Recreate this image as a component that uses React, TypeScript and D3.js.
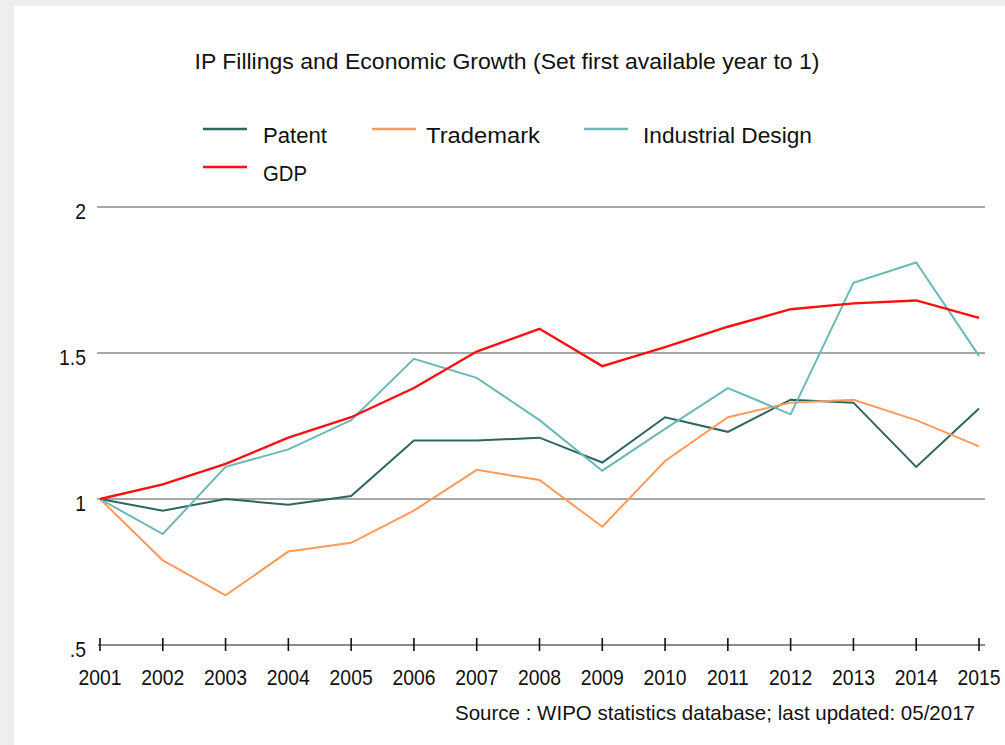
import { useEffect, useRef } from "react";
import * as d3 from "d3";

const years = [2001, 2002, 2003, 2004, 2005, 2006, 2007, 2008, 2009, 2010, 2011, 2012, 2013, 2014, 2015];
const patent = [1.0, 0.96, 1.0, 0.98, 1.01, 1.2, 1.2, 1.21, 1.125, 1.28, 1.23, 1.34, 1.33, 1.11, 1.31];
const trademark = [1.0, 0.79, 0.67, 0.82, 0.85, 0.96, 1.1, 1.065, 0.905, 1.13, 1.28, 1.33, 1.34, 1.27, 1.18];
const industrialDesign = [1.0, 0.88, 1.11, 1.17, 1.27, 1.48, 1.415, 1.27, 1.097, 1.24, 1.38, 1.29, 1.74, 1.81, 1.49];
const gdp = [1.0, 1.05, 1.12, 1.21, 1.28, 1.38, 1.505, 1.583, 1.455, 1.52, 1.59, 1.65, 1.67, 1.68, 1.62];
const yTicks = [0.5, 1, 1.5, 2];
const yTickLabels = [".5", "1", "1.5", "2"];

const series = [
    { name: "Patent", values: patent, color: "#2d6660" },
    { name: "Trademark", values: trademark, color: "#ff9a5c" },
    { name: "Industrial Design", values: industrialDesign, color: "#6bb8b8" },
    { name: "GDP", values: gdp, color: "#ff1010" },
];

// restringe orizzontalmente il testo (font del riferimento più stretto)
const condense = (sel, factor) => {
    sel.each(function () {
        const len = this.getComputedTextLength();
        d3.select(this).attr("textLength", len * factor).attr("lengthAdjust", "spacingAndGlyphs");
    });
};

const App = () => {
    const svgRef = useRef(null);
    const width = 1005;
    const height = 745;

    useEffect(() => {
        document.body.style.margin = "0";
        const svgElement = svgRef.current;
        if (!svgElement) return;
        const svg = d3.select(svgElement);
        svg.selectAll("*").remove();
        const font = "'Liberation Sans', Arial, sans-serif";
        const fs = 22;
        const squeeze = 0.88;

        // sfondo grigio + pannello bianco
        svg.append("rect").attr("width", width).attr("height", height).attr("fill", "#eeeeee");
        svg.append("rect").attr("x", 14).attr("y", 6).attr("width", width - 14).attr("height", height - 6).attr("fill", "#ffffff");

        const xScale = d3.scaleLinear().domain([2001, 2015]).range([100, 979]);
        const yScale = d3.scaleLinear().domain([0.5, 2]).range([645, 207]);

        // titolo
        svg.append("text")
            .attr("x", 507)
            .attr("y", 69)
            .attr("text-anchor", "middle")
            .attr("font-family", font)
            .attr("font-size", fs)
            .attr("textLength", 625)
            .attr("lengthAdjust", "spacingAndGlyphs")
            .attr("fill", "#111")
            .text("IP Fillings and Economic Growth (Set first available year to 1)");

        // legenda
        const legendPos = [
            { lx: 203, tx: 263, y: 129, w: 64 },
            { lx: 372, tx: 426, y: 129, w: 114 },
            { lx: 584, tx: 643, y: 129, w: 169 },
            { lx: 203, tx: 263, y: 167, w: 44 },
        ];
        const legend = svg.append("g").attr("class", "legend");
        series.forEach((s, i) => {
            const p = legendPos[i];
            legend.append("line")
                .attr("x1", p.lx).attr("x2", p.lx + 44)
                .attr("y1", p.y).attr("y2", p.y)
                .attr("stroke", s.color).attr("stroke-width", 2.5);
            legend.append("text")
                .attr("x", p.tx).attr("y", p.y + 14)
                .attr("font-family", font).attr("font-size", fs)
                .attr("textLength", p.w)
                .attr("lengthAdjust", "spacingAndGlyphs")
                .attr("fill", "#111")
                .text(s.name);
        });

        // griglia orizzontale
        svg.append("g")
            .attr("class", "grid")
            .selectAll("line")
            .data(yTicks.slice(1))
            .join("line")
            .attr("x1", 97).attr("x2", 985)
            .attr("y1", (d) => yScale(d)).attr("y2", (d) => yScale(d))
            .attr("stroke", "#8a8a8a").attr("stroke-width", 1.6);

        // etichette asse Y
        svg.append("g")
            .attr("class", "y-labels")
            .selectAll("text")
            .data(yTicks)
            .join("text")
            .attr("x", 86)
            .attr("y", (d) => yScale(d) + 12)
            .attr("text-anchor", "end")
            .attr("font-family", font).attr("font-size", fs)
            .attr("fill", "#111")
            .text((d, i) => yTickLabels[i])
            .call(condense, squeeze);

        // asse X
        const xAxis = svg.append("g").attr("class", "x-axis");
        xAxis.append("line")
            .attr("x1", 98).attr("x2", 985)
            .attr("y1", yScale(0.5)).attr("y2", yScale(0.5))
            .attr("stroke", "#666").attr("stroke-width", 1.6);
        xAxis.selectAll(".tick")
            .data(years)
            .join("line")
            .attr("class", "tick")
            .attr("x1", (d) => xScale(d)).attr("x2", (d) => xScale(d))
            .attr("y1", yScale(0.5) - 7).attr("y2", yScale(0.5) + 6)
            .attr("stroke", "#111").attr("stroke-width", 1.6);
        xAxis.selectAll(".label")
            .data(years)
            .join("text")
            .attr("class", "label")
            .attr("x", (d) => xScale(d))
            .attr("y", 685)
            .attr("text-anchor", "middle")
            .attr("font-family", font).attr("font-size", fs)
            .attr("fill", "#111")
            .text((d) => String(d))
            .call(condense, squeeze);

        // linee dei dati
        const line = d3.line<number>()
            .x((d, i) => xScale(years[i]))
            .y((d) => yScale(d));
        svg.append("g")
            .attr("class", "series")
            .selectAll("path")
            .data(series)
            .join("path")
            .attr("d", (s) => line(s.values))
            .attr("fill", "none")
            .attr("stroke", (s) => s.color)
            .attr("stroke-width", (s) => (s.name === "GDP" ? 2.4 : 2))
            .attr("stroke-linejoin", "miter");

        // fonte
        svg.append("text")
            .attr("x", 975)
            .attr("y", 720)
            .attr("text-anchor", "end")
            .attr("font-family", font)
            .attr("font-size", 21)
            .attr("textLength", 520)
            .attr("lengthAdjust", "spacingAndGlyphs")
            .attr("fill", "#111")
            .text("Source : WIPO statistics database; last updated: 05/2017");
    }, [width, height]);

    return <svg ref={svgRef} width={width} height={height} style={{ display: "block" }}></svg>;
};

export default App;
